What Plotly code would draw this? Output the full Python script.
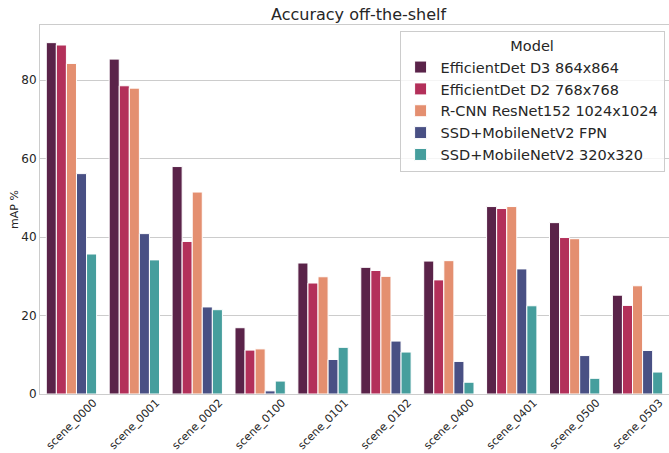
import plotly.graph_objects as go

scenes = ["scene_0000", "scene_0001", "scene_0002", "scene_0100", "scene_0101",
          "scene_0102", "scene_0400", "scene_0401", "scene_0500", "scene_0503"]

models = ["EfficientDet D3 864x864", "EfficientDet D2 768x768",
          "R-CNN ResNet152 1024x1024", "SSD+MobileNetV2 FPN", "SSD+MobileNetV2 320x320"]

effdet_d3 = [89.6, 85.4, 58.0, 16.9, 33.4, 32.3, 33.9, 47.8, 43.7, 25.2]
effdet_d2 = [89.0, 78.6, 38.9, 11.2, 28.3, 31.5, 29.1, 47.3, 39.9, 22.6]
rcnn_r152 = [84.3, 78.0, 51.5, 11.5, 29.9, 30.0, 34.0, 47.8, 39.6, 27.6]
ssd_fpn = [56.2, 40.9, 22.2, 0.8, 8.8, 13.5, 8.3, 31.9, 9.8, 11.1]
ssd_320 = [35.7, 34.2, 21.5, 3.3, 11.9, 10.7, 3.0, 22.5, 4.0, 5.6]

colors = ["#5a2349", "#b3305a", "#e48f70", "#495084", "#469e9d"]
series = [effdet_d3, effdet_d2, rcnn_r152, ssd_fpn, ssd_320]

fig = go.Figure()
for name, vals, c in zip(models, series, colors):
    fig.add_trace(go.Bar(
        x=scenes, y=vals, name=name,
        marker=dict(color=c, line=dict(color="white", width=1)),
    ))

font_family = "DejaVu Sans"
txt = "#262626"

fig.update_layout(
    width=669, height=453,
    margin=dict(l=40, r=0, t=25, b=59, autoexpand=False),
    paper_bgcolor="white", plot_bgcolor="white",
    font=dict(family=font_family, color=txt, size=12),
    barmode="group", bargap=0.2, bargroupgap=0,
    title=dict(text="Accuracy off-the-shelf", x=0.536, xanchor="center",
               y=0.981, yanchor="top", font=dict(size=16, color=txt)),
    legend=dict(
        title=dict(text="Model", side="top center", font=dict(size=14.5, color=txt)),
        font=dict(size=14.5, color=txt),
        x=0.993, xanchor="right", y=0.983, yanchor="top",
        bgcolor="rgba(255,255,255,0.8)", bordercolor="#cccccc", borderwidth=1,
        tracegroupgap=0,
    ),
    xaxis=dict(
        automargin=False,
        tickangle=-45, tickfont=dict(size=11, color=txt),
        ticklabelshift=22, ticklabelstandoff=-3,
        showline=True, linecolor="#cccccc", linewidth=1, mirror=True,
        showgrid=False,
    ),
    yaxis=dict(
        automargin=False,
        title=dict(text="mAP %", font=dict(size=11, color=txt), standoff=0),
        range=[0, 94.1], tickvals=[0, 20, 40, 60, 80],
        tickfont=dict(size=12, color=txt),
        showgrid=True, gridcolor="#cccccc", gridwidth=1,
        showline=True, linecolor="#cccccc", linewidth=1, mirror=True,
        zeroline=False,
    ),
)

fig.write_html(
    "out.html",
    config={"displayModeBar": False},
    post_script="document.body.style.margin='0';document.body.style.overflow='hidden';",
)
